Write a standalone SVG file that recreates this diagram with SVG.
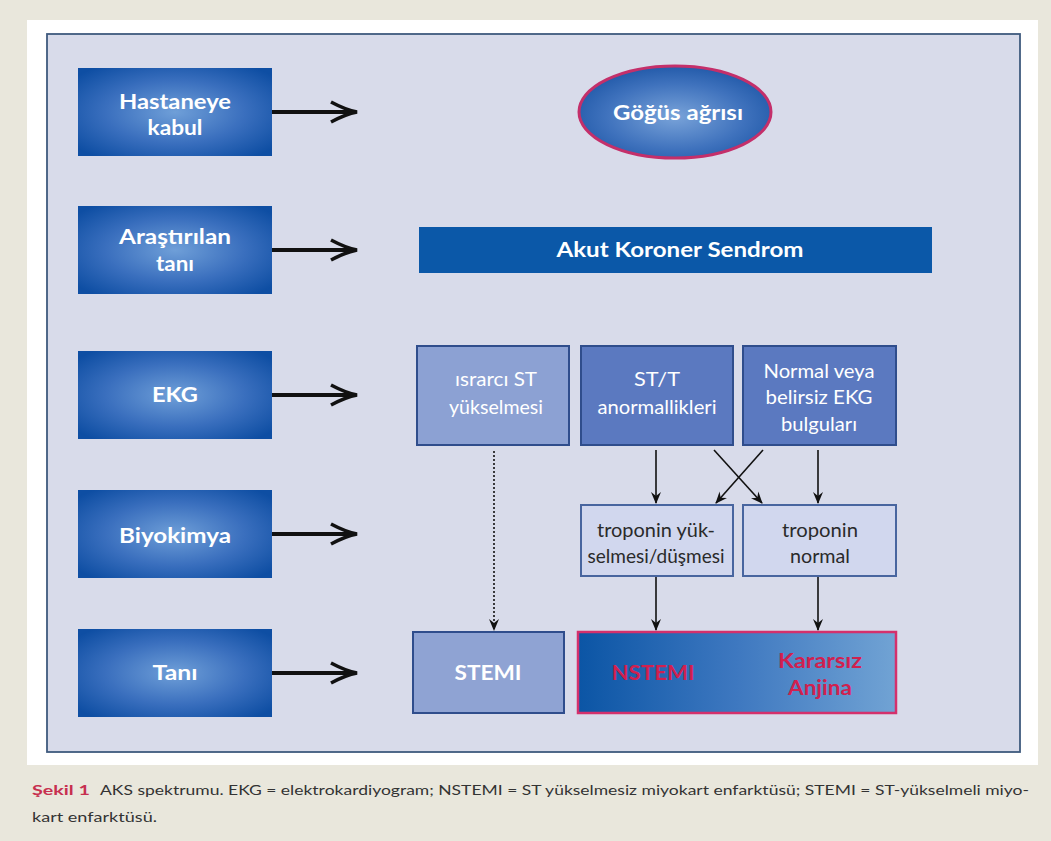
<svg xmlns="http://www.w3.org/2000/svg" width="1051" height="841" viewBox="0 0 1051 841">
<defs>
<radialGradient id="gBox" cx="50%" cy="50%" r="65%">
<stop offset="0" stop-color="#6f9fd8"/>
<stop offset="0.55" stop-color="#3a6fbe"/>
<stop offset="1" stop-color="#0e4ea3"/>
</radialGradient>
<radialGradient id="gEll" cx="50%" cy="55%" r="60%">
<stop offset="0" stop-color="#79a3d9"/>
<stop offset="0.6" stop-color="#3f72bd"/>
<stop offset="1" stop-color="#1c55a5"/>
</radialGradient>
<linearGradient id="gDx" x1="0" y1="0" x2="1" y2="0">
<stop offset="0" stop-color="#0b55a5"/>
<stop offset="0.5" stop-color="#3e78c0"/>
<stop offset="1" stop-color="#71a3d4"/>
</linearGradient>
<marker id="ah" markerUnits="userSpaceOnUse" markerWidth="12" markerHeight="12" viewBox="0 0 12 12" refX="11" refY="6" orient="auto">
<path d="M0,1 L12,6 L0,11 L4,6 Z" fill="#111"/>
</marker>
<style>
.lbox{fill:url(#gBox);}
.lt{font-family:Lato,"Liberation Sans",sans-serif;font-weight:bold;font-size:20px;fill:#fff;text-anchor:middle;}
.ekg{stroke:#2f4d8c;stroke-width:2;}
.wt{font-family:Lato,"Liberation Sans",sans-serif;font-size:20px;fill:#fff;text-anchor:middle;}
.dt{font-family:Lato,"Liberation Sans",sans-serif;font-size:19px;fill:#2a2a2a;text-anchor:middle;}
.rt{font-family:Lato,"Liberation Sans",sans-serif;font-weight:bold;font-size:20px;fill:#d1204f;text-anchor:middle;}
.big{fill:none;stroke:#111;stroke-width:4;}
.bighead{fill:none;stroke:#111;stroke-width:3.5;stroke-linejoin:miter;}
.thin{fill:none;stroke:#111;stroke-width:1.6;}
.cap{font-family:Lato,"Liberation Sans",sans-serif;font-size:13px;fill:#333;}
</style>
</defs>
<rect x="0" y="0" width="1051" height="841" fill="#e9e7dc"/>
<rect x="27" y="20" width="1011" height="745" fill="#ffffff"/>
<rect x="47" y="34" width="973" height="718" fill="#d8dbea" stroke="#3f5a7e" stroke-width="1.8"/>

<g id="n-hastaneye"><rect class="lbox" x="78" y="68" width="194" height="88"/><text class="lt" x="175" y="109" textLength="112" lengthAdjust="spacingAndGlyphs">Hastaneye</text><text class="lt" x="175" y="135" textLength="55" lengthAdjust="spacingAndGlyphs">kabul</text></g>
<g id="n-arastirilan"><rect class="lbox" x="78" y="206" width="194" height="88"/><text class="lt" x="175" y="244" textLength="112" lengthAdjust="spacingAndGlyphs">Araştırılan</text><text class="lt" x="175" y="271" textLength="38" lengthAdjust="spacingAndGlyphs">tanı</text></g>
<g id="n-ekg"><rect class="lbox" x="78" y="351" width="194" height="88"/><text class="lt" x="175" y="402" textLength="46" lengthAdjust="spacingAndGlyphs">EKG</text></g>
<g id="n-biyokimya"><rect class="lbox" x="78" y="490" width="194" height="88"/><text class="lt" x="175" y="543" textLength="112" lengthAdjust="spacingAndGlyphs">Biyokimya</text></g>
<g id="n-tani"><rect class="lbox" x="78" y="629" width="194" height="88"/><text class="lt" x="175" y="680" textLength="45" lengthAdjust="spacingAndGlyphs">Tanı</text></g>

<g id="n-gogus"><ellipse cx="675" cy="112" rx="96" ry="46" fill="url(#gEll)" stroke="#c42f6a" stroke-width="3"/><text class="lt" x="678" y="120" textLength="130" lengthAdjust="spacingAndGlyphs">Göğüs ağrısı</text></g>
<g id="n-aks"><rect x="419" y="227" width="513" height="46" fill="#0b58a8"/><text class="lt" x="680" y="257" font-size="21" textLength="247" lengthAdjust="spacingAndGlyphs">Akut Koroner Sendrom</text></g>

<g id="n-israrci"><rect class="ekg" x="417" y="346" width="152" height="99" fill="#8ca1d3"/><text class="wt" x="496" y="386" textLength="82" lengthAdjust="spacingAndGlyphs">ısrarcı ST</text><text class="wt" x="496" y="414" textLength="94" lengthAdjust="spacingAndGlyphs">yükselmesi</text></g>
<g id="n-stt"><rect class="ekg" x="581" y="346" width="152" height="99" fill="#5b79c0"/><text class="wt" x="657" y="386" textLength="46" lengthAdjust="spacingAndGlyphs">ST/T</text><text class="wt" x="657" y="414" textLength="119" lengthAdjust="spacingAndGlyphs">anormallikleri</text></g>
<g id="n-normal"><rect class="ekg" x="743" y="346" width="153" height="99" fill="#5b79c0"/><text class="wt" x="819" y="378" textLength="111" lengthAdjust="spacingAndGlyphs">Normal veya</text><text class="wt" x="819" y="404" textLength="107" lengthAdjust="spacingAndGlyphs">belirsiz EKG</text><text class="wt" x="819" y="431" textLength="76" lengthAdjust="spacingAndGlyphs">bulguları</text></g>

<g id="n-trop1"><rect x="581" y="505" width="152" height="71" fill="#d1d7ee" stroke="#48659f" stroke-width="2"/><text class="dt" x="656" y="537" textLength="118" lengthAdjust="spacingAndGlyphs">troponin yük-</text><text class="dt" x="656" y="563" textLength="137" lengthAdjust="spacingAndGlyphs">selmesi/düşmesi</text></g>
<g id="n-trop2"><rect x="743" y="505" width="153" height="71" fill="#d1d7ee" stroke="#48659f" stroke-width="2"/><text class="dt" x="820" y="537" textLength="76" lengthAdjust="spacingAndGlyphs">troponin</text><text class="dt" x="820" y="563" textLength="60" lengthAdjust="spacingAndGlyphs">normal</text></g>

<g id="n-stemi"><rect x="413" y="632" width="151" height="81" fill="#8fa3d3" stroke="#2f4d8c" stroke-width="2"/><text class="lt" x="488" y="680" font-size="21" textLength="67" lengthAdjust="spacingAndGlyphs">STEMI</text></g>
<g id="n-nstemi"><rect x="578" y="632" width="318" height="81" fill="url(#gDx)" stroke="#d4306c" stroke-width="2.5"/><text class="rt" x="653" y="680" textLength="83" lengthAdjust="spacingAndGlyphs">NSTEMI</text><text class="rt" x="820" y="668" textLength="84" lengthAdjust="spacingAndGlyphs">Kararsız</text><text class="rt" x="820" y="695" textLength="64" lengthAdjust="spacingAndGlyphs">Anjina</text></g>

<g id="connectors">
<path class="big" d="M272 112 H352"/><path class="bighead" d="M331 102 Q346 110 357 112 Q346 114 331 122"/>
<path class="big" d="M272 250 H352"/><path class="bighead" d="M331 240 Q346 248 357 250 Q346 252 331 260"/>
<path class="big" d="M272 395 H352"/><path class="bighead" d="M331 385 Q346 393 357 395 Q346 397 331 405"/>
<path class="big" d="M272 534 H352"/><path class="bighead" d="M331 524 Q346 532 357 534 Q346 536 331 544"/>
<path class="big" d="M272 673 H352"/><path class="bighead" d="M331 663 Q346 671 357 673 Q346 675 331 683"/>
<path class="thin" d="M656 450 V503" marker-end="url(#ah)"/>
<path class="thin" d="M818 450 V503" marker-end="url(#ah)"/>
<path class="thin" d="M714 450 L762 503" marker-end="url(#ah)"/>
<path class="thin" d="M763 450 L716 503" marker-end="url(#ah)"/>
<path class="thin" d="M494 451 V630" stroke-dasharray="2 2" marker-end="url(#ah)"/>
<path class="thin" d="M656 577 V630" marker-end="url(#ah)"/>
<path class="thin" d="M818 577 V630" marker-end="url(#ah)"/>
</g>

<g id="caption">
<text class="cap" x="32" y="795" style="fill:#c7304f;font-weight:bold;font-size:14px" textLength="58" lengthAdjust="spacingAndGlyphs">Şekil 1</text>
<text class="cap" x="100" y="795" textLength="929" lengthAdjust="spacingAndGlyphs">AKS spektrumu. EKG = elektrokardiyogram; NSTEMI = ST yükselmesiz miyokart enfarktüsü; STEMI = ST-yükselmeli miyo-</text>
<text class="cap" x="32" y="822" textLength="125" lengthAdjust="spacingAndGlyphs">kart enfarktüsü.</text>
</g>
</svg>
